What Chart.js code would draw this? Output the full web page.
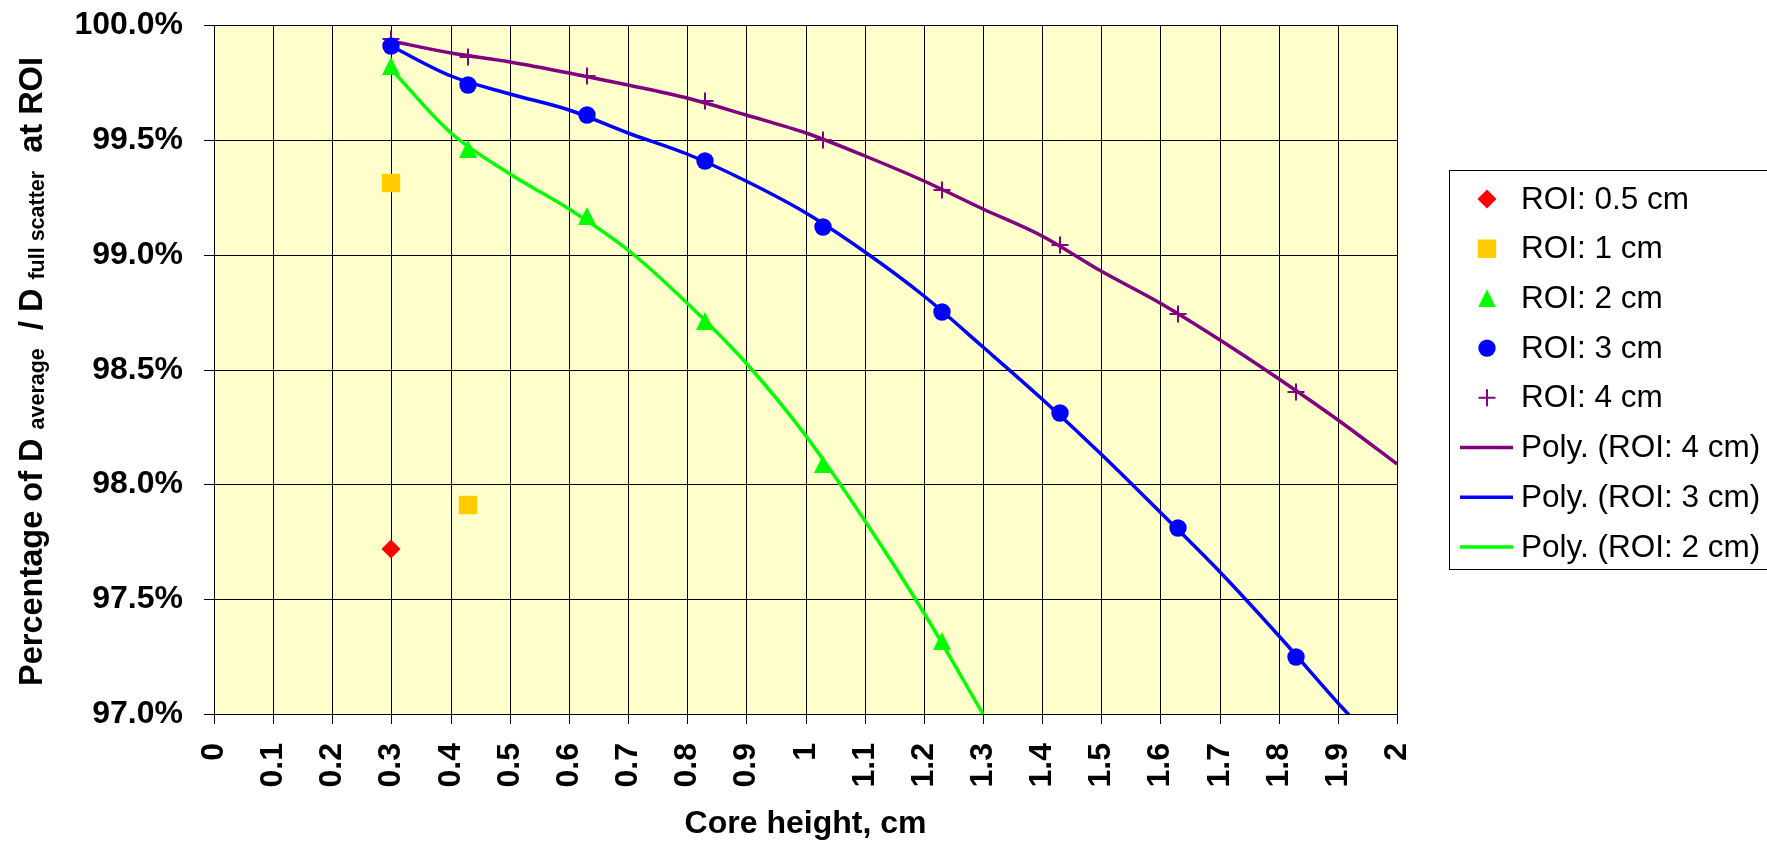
<!DOCTYPE html>
<html>
<head>
<meta charset="utf-8">
<title>Core height vs. dose ratio</title>
<script src="https://cdn.jsdelivr.net/npm/chart.js@4.4.1/dist/chart.umd.min.js"></script>
<style>
  html, body { margin: 0; padding: 0; background: #ffffff; }
  canvas { display: block; }
</style>
</head>
<body>
<canvas id="chart" width="1767" height="842"></canvas>
<script>
const FONT = '"Liberation Sans", Arial, Helvetica, sans-serif';

// Measured ratios (core height in cm -> percentage of full-scatter dose)
const roi05X = [0.3];
const roi05Y = [97.72];
const roi1X = [0.3, 0.43];
const roi1Y = [99.31, 97.91];
const roi2X = [0.3, 0.43, 0.63, 0.83, 1.03, 1.23];
const roi2Y = [99.82, 99.46, 99.17, 98.71, 98.09, 97.32];
const roi3X = [0.3, 0.43, 0.63, 0.83, 1.03, 1.23, 1.43, 1.63, 1.83];
const roi3Y = [99.91, 99.74, 99.61, 99.41, 99.12, 98.75, 98.31, 97.81, 97.25];
const roi4X = [0.3, 0.43, 0.63, 0.83, 1.03, 1.23, 1.43, 1.63, 1.83];
const roi4Y = [99.94, 99.86, 99.78, 99.67, 99.50, 99.28, 99.04, 98.74, 98.40];

// Polynomial trendlines, sampled along each curve
const poly4X = [0.3, 0.4, 0.5, 0.6, 0.7, 0.8, 0.9, 1.0, 1.1, 1.2, 1.3, 1.4, 1.5, 1.6, 1.7, 1.8, 1.9, 2.0];
const poly4Y = [99.93, 99.88, 99.84, 99.79, 99.74, 99.68, 99.61, 99.53, 99.43, 99.32, 99.20, 99.08, 98.93, 98.79, 98.63, 98.46, 98.28, 98.09];
const poly3X = [0.3, 0.4, 0.5, 0.6, 0.7, 0.8, 0.9, 1.0, 1.1, 1.2, 1.3, 1.4, 1.5, 1.6, 1.7, 1.8, 1.9, 1.92];
const poly3Y = [99.91, 99.78, 99.70, 99.63, 99.53, 99.44, 99.32, 99.18, 99.01, 98.82, 98.60, 98.37, 98.13, 97.88, 97.62, 97.34, 97.05, 96.99];
const poly2X = [0.3, 0.4, 0.5, 0.6, 0.7, 0.8, 0.9, 1.0, 1.1, 1.2, 1.3];
const poly2Y = [99.81, 99.53, 99.35, 99.20, 99.02, 98.79, 98.53, 98.21, 97.84, 97.44, 97.00];

// Axis ticks
const xTicks = [0, 0.1, 0.2, 0.3, 0.4, 0.5, 0.6, 0.7, 0.8, 0.9, 1, 1.1, 1.2, 1.3, 1.4, 1.5, 1.6, 1.7, 1.8, 1.9, 2];
const yTicks = [97.0, 97.5, 98.0, 98.5, 99.0, 99.5, 100.0];

const xTitle = 'Core height, cm';
// Y title pieces: normal text and lowered subscripts
const yTitleRuns = [
  { text: 'Percentage of D ', sub: false },
  { text: 'average', sub: true },
  { text: '  / D ', sub: false },
  { text: 'full scatter', sub: true },
  { text: '  at ROI', sub: false }
];

function pts(xs, ys) { return xs.map((x, i) => ({ x: x, y: ys[i] })); }

// Upright triangle marker image
function triangleMarker(color, w, h) {
  const c = document.createElement('canvas');
  c.width = w; c.height = h;
  const g = c.getContext('2d');
  g.fillStyle = color;
  g.beginPath();
  g.moveTo(w / 2, 0);
  g.lineTo(w, h);
  g.lineTo(0, h);
  g.closePath();
  g.fill();
  return c;
}
const triMark = triangleMarker('#00FF00', 18, 18);

function markerSet(label, data, style, radius, fill, stroke, bw) {
  return {
    label: label, data: data, showLine: false,
    pointStyle: style, pointRadius: radius, pointHoverRadius: radius,
    pointBackgroundColor: fill, pointBorderColor: stroke, pointBorderWidth: bw,
    backgroundColor: fill, borderColor: stroke
  };
}
function trendSet(label, data, color) {
  return {
    label: label, data: data, showLine: true, borderColor: color, backgroundColor: color,
    borderWidth: 3.5, pointRadius: 0, pointHoverRadius: 0, cubicInterpolationMode: 'monotone', fill: false
  };
}

const datasets = [
  markerSet('ROI: 0.5 cm', pts(roi05X, roi05Y), 'rectRot', 9.5, '#FF0000', '#FF0000', 0),
  markerSet('ROI: 1 cm', pts(roi1X, roi1Y), 'rect', 13, '#FFCC00', '#FFCC00', 0),
  markerSet('ROI: 2 cm', pts(roi2X, roi2Y), triMark, 9, '#00FF00', '#00FF00', 0),
  markerSet('ROI: 3 cm', pts(roi3X, roi3Y), 'circle', 8.7, '#0000FF', '#0000FF', 0),
  markerSet('ROI: 4 cm', pts(roi4X, roi4Y), 'cross', 8.5, '#800080', '#800080', 2),
  trendSet('Poly. (ROI: 4 cm)', pts(poly4X, poly4Y), '#800080'),
  trendSet('Poly. (ROI: 3 cm)', pts(poly3X, poly3Y), '#0000FF'),
  trendSet('Poly. (ROI: 2 cm)', pts(poly2X, poly2Y), '#00FF00')
];

// Pale yellow plot area
const plotBackground = {
  id: 'plotBackground',
  beforeDraw(chart) {
    const a = chart.chartArea, ctx = chart.ctx;
    ctx.save();
    ctx.fillStyle = '#FFFFCC';
    ctx.fillRect(a.left, a.top, a.right - a.left, a.bottom - a.top);
    ctx.restore();
  }
};

// Rotated y-axis title with subscripts
const yTitlePlugin = {
  id: 'yTitle',
  afterDraw(chart) {
    const ctx = chart.ctx, a = chart.chartArea;
    const mainFont = 'bold 32.5px ' + FONT;
    const subFont = 'bold 21.5px ' + FONT;
    ctx.save();
    let total = 0;
    yTitleRuns.forEach(r => { ctx.font = r.sub ? subFont : mainFont; total += ctx.measureText(r.text).width; });
    const cy = (a.top + a.bottom) / 2 + 2;
    ctx.translate(42, cy);
    ctx.rotate(-Math.PI / 2);
    ctx.fillStyle = '#000';
    ctx.textBaseline = 'alphabetic';
    ctx.textAlign = 'left';
    let x = -total / 2;
    yTitleRuns.forEach(r => {
      ctx.font = r.sub ? subFont : mainFont;
      ctx.fillText(r.text, x, r.sub ? 2 : 0);
      x += ctx.measureText(r.text).width;
    });
    ctx.restore();
  }
};

// Boxed legend at the right
const sideLegend = {
  id: 'sideLegend',
  afterDraw(chart) {
    const ctx = chart.ctx;
    ctx.save();
    ctx.strokeStyle = '#000';
    ctx.lineWidth = 1;
    ctx.strokeRect(1449.5, 170.5, 340, 399);
    ctx.textBaseline = 'middle';
    ctx.textAlign = 'left';
    chart.data.datasets.forEach((ds, i) => {
      const y = 199 + i * 49.7;
      if (ds.showLine) {
        ctx.strokeStyle = ds.borderColor;
        ctx.lineWidth = ds.borderWidth;
        ctx.beginPath();
        ctx.moveTo(1460, y);
        ctx.lineTo(1513, y);
        ctx.stroke();
      } else {
        ctx.fillStyle = ds.pointBackgroundColor;
        ctx.strokeStyle = ds.pointBorderColor;
        ctx.lineWidth = ds.pointBorderWidth;
        Chart.helpers.drawPoint(ctx, {
          pointStyle: ds.pointStyle, radius: ds.pointRadius, rotation: 0, borderWidth: ds.pointBorderWidth
        }, 1487, y);
      }
      ctx.fillStyle = '#000';
      ctx.font = '31.5px ' + FONT;
      ctx.fillText(ds.label, 1521, y + 1);
    });
    ctx.restore();
  }
};

const tickFont = { family: FONT, size: 32, weight: 'bold' };

new Chart(document.getElementById('chart'), {
  type: 'scatter',
  data: { datasets: datasets },
  plugins: [plotBackground, yTitlePlugin, sideLegend],
  options: {
    responsive: false,
    animation: false,
    devicePixelRatio: 1,
    layout: { padding: { left: 0, right: 370, top: 25, bottom: 0 } },
    plugins: { legend: { display: false }, tooltip: { enabled: false } },
    scales: {
      x: {
        type: 'linear', min: 0, max: 2,
        alignToPixels: true,
        afterBuildTicks(scale) { scale.ticks = xTicks.map(v => ({ value: v })); },
        afterFit(scale) { scale.height = 128; },
        ticks: {
          autoSkip: false, minRotation: 90, maxRotation: 90, padding: 19,
          color: '#000', font: tickFont,
          callback: v => String(Math.round(v * 10) / 10)
        },
        grid: { color: '#000', lineWidth: 1, tickLength: 10, drawTicks: true },
        border: { color: '#000', width: 1 },
        title: {
          display: true, text: xTitle, color: '#000',
          font: { family: FONT, size: 32, weight: 'bold', lineHeight: 1.1 },
          padding: { top: 0, bottom: 0 }
        }
      },
      y: {
        type: 'linear', min: 97, max: 100,
        alignToPixels: true,
        afterBuildTicks(scale) { scale.ticks = yTicks.map(v => ({ value: v })); },
        afterFit(scale) {
          scale.width = 214;
          scale.paddingTop = 0;
          scale.paddingBottom = 0;
        },
        ticks: {
          padding: 21, color: '#000', font: tickFont,
          callback: v => v.toFixed(1) + '%'
        },
        grid: { color: '#000', lineWidth: 1, tickLength: 10, drawTicks: true },
        border: { color: '#000', width: 1 }
      }
    }
  }
});
</script>
</body>
</html>
